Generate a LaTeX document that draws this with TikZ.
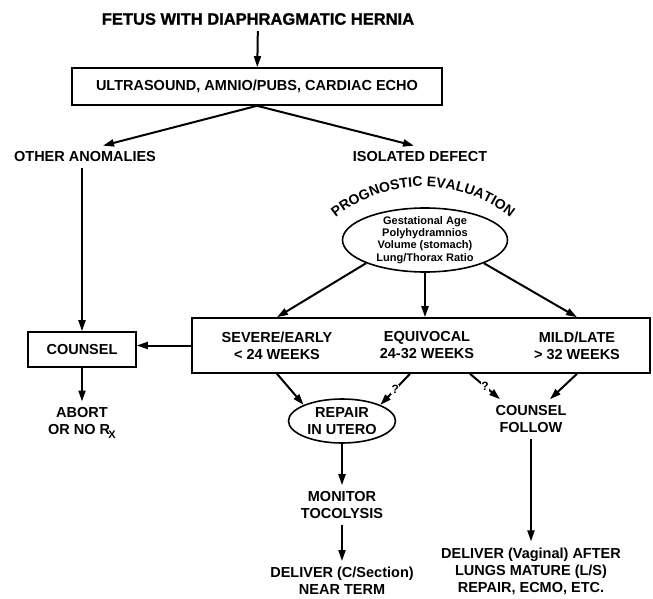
\documentclass[tikz,border=0pt]{standalone}
\usepackage{fontspec}
\setmainfont{Liberation Sans}
\newfontfamily\titlefont{Liberation Sans}[FakeBold=1.2]
\usetikzlibrary{arrows.meta, shapes.geometric, calc, decorations.text}

\begin{document}
\begin{tikzpicture}[
    x=1pt, y=-1pt,
    txt/.style={align=center, inner sep=6pt, font=\fontsize{14.5}{17}\selectfont\bfseries},
    box/.style={rectangle, draw, line width=1.6pt, inner sep=0pt, align=center,
                font=\fontsize{14.5}{17}\selectfont\bfseries},
    oval/.style={ellipse, draw, line width=1.6pt, inner sep=0pt, align=center},
    arrow/.style={-{Triangle[length=11pt, width=7pt]}, line width=2pt},
    query/.style={fill=white, inner sep=0.5pt, font=\fontsize{12}{12}\selectfont\bfseries}
]
    \useasboundingbox (0,0) rectangle (653,599);

    \node[txt, font=\fontsize{16.5}{19}\selectfont\titlefont\bfseries] (fetus) at (258,19) {FETUS WITH DIAPHRAGMATIC HERNIA};
    \node[box, minimum width=370, minimum height=37] (tests) at (257,86.5) {ULTRASOUND, AMNIO/PUBS, CARDIAC ECHO};
    \node[txt] (other) at (85,157) {OTHER ANOMALIES};
    \node[txt] (isolated) at (420,157) {ISOLATED DEFECT};

    % prognostic evaluation
    \node[oval, inner ysep=-3pt, minimum width=165, minimum height=64,
          font=\fontsize{11}{12.3}\selectfont\bfseries] (prog) at (425,240)
          {Gestational Age\\Polyhydramnios\\Volume (stomach)\\Lung/Thorax Ratio};
    \coordinate (arcL) at (326,226);
    \coordinate (arcR) at (520,226);
    \path[decorate, decoration={text along path, text align=center,
          text={|\fontsize{14}{14}\selectfont\bfseries|PROGNOSTIC EVALUATION}}]
          (arcL) to[bend left=44] (arcR);

    \node[box, minimum width=458, minimum height=55] (main) at (421,345.5) {};
    \node[txt] (severe) at (277,345.5) {SEVERE/EARLY\\< 24 WEEKS};
    \node[txt] (equiv) at (427,345.5) {EQUIVOCAL\\24-32 WEEKS};
    \node[txt] (mild) at (577,345.5) {MILD/LATE\\> 32 WEEKS};

    \node[box, minimum width=108, minimum height=35] (counsel) at (82,349.5) {COUNSEL};
    \node[txt] (abort) at (82,423) {ABORT\\OR NO R\kern-0.12em\raisebox{-0.45ex}{\fontsize{11}{11}\selectfont X}};

    \node[oval, minimum width=107, minimum height=44,
          font=\fontsize{14.5}{17}\selectfont\bfseries] (repair) at (342,421) {REPAIR\\IN UTERO};
    \node[txt] (follow) at (531,419) {COUNSEL\\FOLLOW};
    \node[txt] (monitor) at (342,505) {MONITOR\\TOCOLYSIS};
    \node[txt] (deliverc) at (342,581) {DELIVER (C/Section)\\NEAR TERM};
    \node[txt] (deliverv) at (531,571) {DELIVER (Vaginal) AFTER\\LUNGS MATURE (L/S)\\REPAIR, ECMO, ETC.};

    \coordinate (q1) at ($(main.south -| equiv)+(-17,0)$);
    \coordinate (q2) at ($(main.south -| equiv)+(43,0)$);

    \draw[arrow] (fetus) -- (tests);
    \draw[arrow] (tests.south) -- ($(other.north)+(18,0)$);
    \draw[arrow] (tests.south) -- ($(isolated.north)+(-6,0)$);
    \draw[arrow] (counsel.north |- other.south) -- (counsel.north);
    \draw[arrow] (main.west) -- (main.west -| counsel.east);
    \draw[arrow] (counsel) -- (abort);
    \draw[arrow] (prog.south west) -- (main.north -| severe);
    \draw[arrow] (prog.south) -- (prog.south |- main.north);
    \draw[arrow] (prog.south east) -- (main.north -| mild);
    \draw[arrow] (main.south -| severe) -- (repair.north west);
    \draw[arrow] (q1) -- node[query]{?} (repair.north east);
    \draw[arrow] (q2) -- node[query]{?} ($(follow.north)+(-31,0)$);
    \draw[arrow] (main.south -| mild) -- ($(follow.north)+(19,0)$);
    \draw[arrow] (repair) -- (monitor);
    \draw[arrow] (monitor) -- (deliverc);
    \draw[arrow] (follow) -- (deliverv);
\end{tikzpicture}
\end{document}
